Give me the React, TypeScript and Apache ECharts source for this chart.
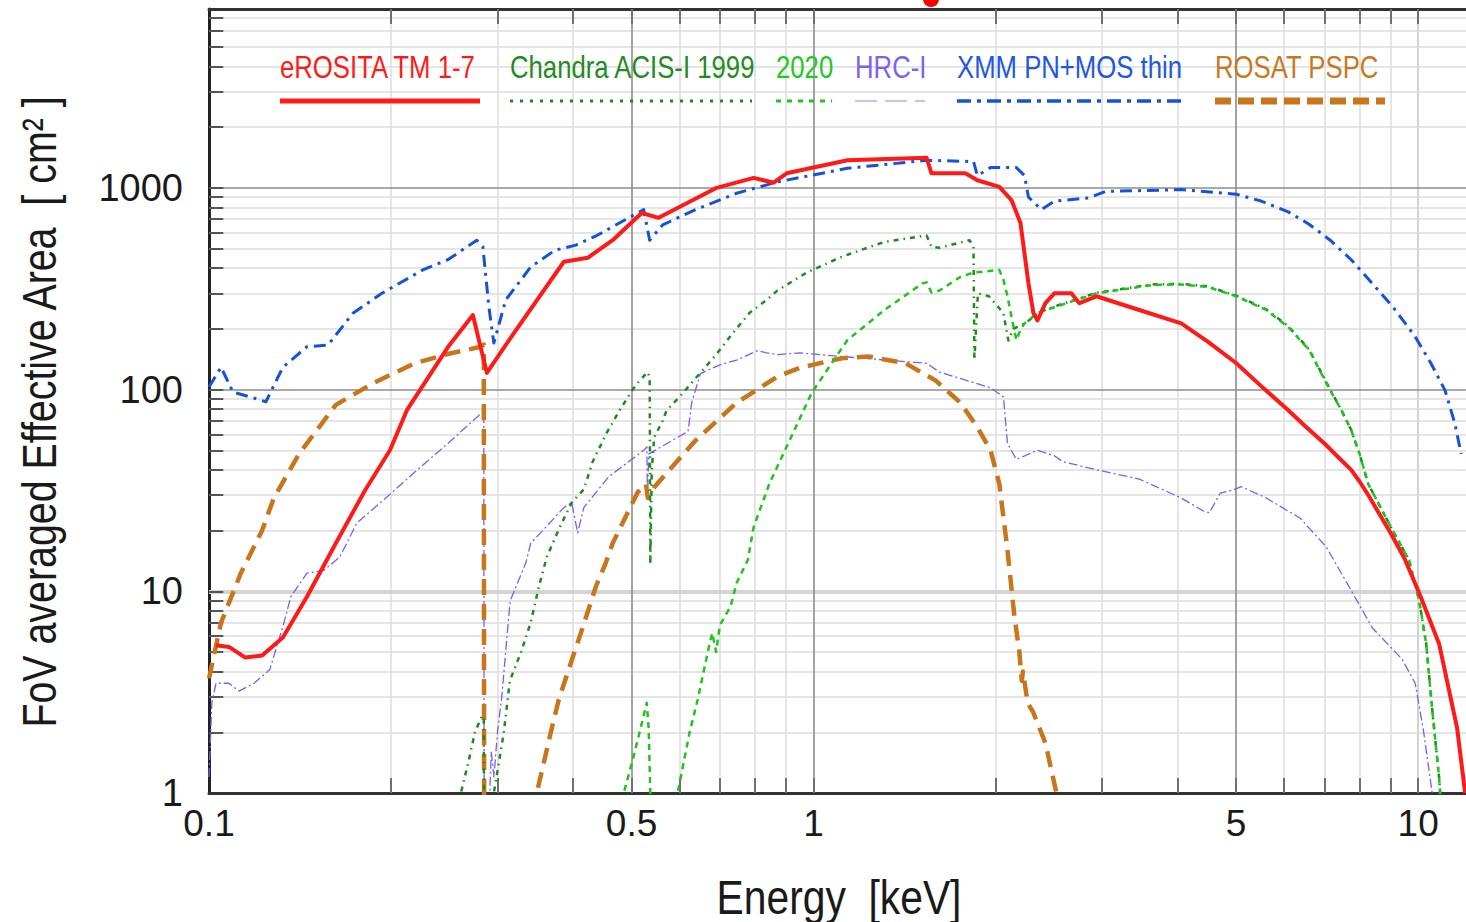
import React, { useEffect, useRef } from "react";
import * as echarts from "echarts";

// ---------- data (Energy keV, Effective area cm^2) ----------
const erosita: [number, number][] = [
  [0.1027, 5.4], [0.1079, 5.3], [0.1147, 4.7], [0.1224, 4.8], [0.1325, 5.9], [0.1452, 9.4],
  [0.1621, 17.3], [0.1811, 31.6], [0.1992, 50], [0.2125, 79], [0.2483, 162], [0.2732, 234],
  [0.2881, 121], [0.3192, 190], [0.3863, 430], [0.4231, 450], [0.4653, 550], [0.5196, 750],
  [0.5543, 710], [0.6914, 1000], [0.7959, 1120], [0.8589, 1060], [0.9024, 1180], [1.138, 1370],
  [1.538, 1410], [1.567, 1180], [1.783, 1180], [1.866, 1090], [2.029, 1010], [2.125, 870],
  [2.199, 670], [2.267, 336], [2.31, 240], [2.346, 220], [2.418, 268], [2.502, 300], [2.669, 300],
  [2.752, 268], [2.937, 290], [3.457, 248], [4.057, 213], [4.5, 172], [5.004, 135], [5.5, 104],
  [6.098, 79], [6.5, 66], [7.0, 54], [7.5, 44], [7.75, 40], [8.0, 35], [8.27, 30], [9.0, 19.5],
  [9.5, 14.5], [10.04, 9.8], [10.4, 7.5], [10.83, 5.5], [11.6, 2.1], [11.96, 1.0],
];

const xmm: [number, number][] = [
  [0.1, 103], [0.1047, 129], [0.1096, 97], [0.1169, 92], [0.1242, 87], [0.1325, 129], [0.1452, 163],
  [0.1573, 166], [0.173, 239], [0.1932, 300], [0.2258, 392], [0.2483, 440], [0.2773, 550],
  [0.2838, 510], [0.2904, 256], [0.2959, 170], [0.3096, 278], [0.3405, 405], [0.3732, 490],
  [0.4043, 520], [0.4379, 580], [0.5236, 780], [0.5357, 550], [0.5629, 655], [0.6383, 780],
  [0.7459, 940], [0.8719, 1070], [1.138, 1250], [1.538, 1370], [1.839, 1350], [1.866, 1150],
  [1.962, 1260], [2.165, 1260], [2.233, 1150], [2.267, 900], [2.382, 780], [2.502, 860],
  [2.848, 890], [3.039, 960], [4.057, 980], [5.004, 930], [5.5, 860], [6.098, 760], [6.6, 660],
  [7.154, 550], [7.75, 440], [8.395, 336], [9.1, 255], [9.886, 183], [10.5, 135], [11.08, 99],
  [11.5, 68], [11.78, 48],
];

const rosatLow: [number, number][] = [
  [0.1, 3.7], [0.1047, 7], [0.1129, 12.3], [0.1224, 20], [0.128, 29], [0.1409, 48], [0.1621, 84],
  [0.1874, 108], [0.219, 135], [0.2483, 150], [0.2816, 163], [0.2848, 167], [0.2852, 0.4],
];
const rosatHigh: [number, number][] = [
  [0.345, 0.8], [0.3485, 1.0], [0.3676, 2.0], [0.3789, 2.9], [0.3966, 4.4], [0.4136, 6.4],
  [0.4362, 10.5], [0.4531, 13.8], [0.4653, 17.3], [0.5118, 31], [0.528, 34], [0.532, 29],
  [0.546, 33], [0.6383, 56], [0.7459, 86], [0.8719, 116], [0.9483, 128], [1.113, 143],
  [1.229, 146], [1.419, 135], [1.591, 111], [1.75, 86], [1.866, 65], [1.962, 50], [2.029, 34],
  [2.093, 16], [2.149, 7.5], [2.19, 5.0], [2.21, 3.6], [2.22, 4.0], [2.26, 2.8], [2.31, 2.5],
  [2.418, 1.77], [2.522, 1.0], [2.6, 0.7],
];

const hrcLow: [number, number][] = [
  [0.1, 1.2], [0.1011, 2.8], [0.1027, 3.5], [0.1079, 3.5], [0.1121, 3.2], [0.1187, 3.5],
  [0.1261, 4.1], [0.1325, 6.7], [0.1366, 9.4], [0.1452, 12.3], [0.1549, 12.7], [0.1646, 14.8],
  [0.1756, 21.8], [0.1961, 29], [0.219, 39], [0.2483, 54], [0.2816, 76], [0.2848, 78], [0.2852, 0.4],
];
const hrcHigh: [number, number][] = [
  [0.289, 0.5], [0.293, 1.6], [0.296, 1.2], [0.3, 2.0], [0.305, 3.0], [0.312, 6.6], [0.315, 9],
  [0.3342, 13.8], [0.3405, 17.3], [0.3565, 20], [0.3863, 26], [0.398, 27.5], [0.4072, 19.5],
  [0.4168, 26], [0.4584, 37], [0.5236, 50], [0.53, 52], [0.531, 29], [0.534, 48], [0.62, 62],
  [0.6286, 86], [0.65, 120], [0.702, 133], [0.7459, 140], [0.8081, 156], [0.8363, 152],
  [0.8719, 149], [0.9483, 152], [1.138, 145], [1.538, 135], [1.616, 122], [1.962, 102],
  [2.061, 92], [2.093, 54], [2.165, 45], [2.346, 50], [2.502, 47], [2.58, 44], [2.937, 40],
  [3.457, 36], [4.057, 29], [4.413, 25], [4.515, 24.5], [4.708, 30.7], [4.928, 31.7], [5.099, 33],
  [5.608, 29], [6.383, 23], [7.046, 16.6], [7.75, 10.1], [8.395, 6.6], [9.41, 4.6], [9.886, 3.5],
  [10.19, 2.1], [10.55, 1.0], [10.7, 0.6],
];

const acis1999Low: [number, number][] = [
  [0.258, 0.7], [0.261, 1.0], [0.2691, 1.46], [0.2753, 2.0], [0.2827, 2.4], [0.2848, 2.4], [0.2852, 0.4],
];
const acis1999High: [number, number][] = [
  [0.293, 0.7], [0.2959, 1.0], [0.3074, 2.0], [0.3145, 3.6], [0.3291, 5.1], [0.3405, 7],
  [0.3512, 10.5], [0.362, 14.8], [0.3804, 20.8], [0.398, 27.5], [0.4168, 32], [0.4313, 44],
  [0.4548, 61], [0.4778, 79], [0.5022, 100], [0.5158, 111], [0.5315, 122], [0.5357, 115],
  [0.537, 14], [0.54, 40], [0.545, 58], [0.5629, 70], [0.5715, 79], [0.6004, 92], [0.645, 118],
  [0.6914, 150], [0.7346, 190], [0.7837, 240], [0.8363, 278], [0.8719, 310], [0.9737, 380],
  [1.113, 455], [1.31, 540], [1.538, 580], [1.567, 510], [1.616, 505], [1.811, 550], [1.839, 510],
  [1.845, 140], [1.87, 300], [1.95, 290], [2.06, 240], [2.1, 175], [2.14, 200], [2.25, 215],
  [2.35, 240], [2.502, 258], [2.937, 302], [3.634, 332], [4.057, 334], [4.481, 325], [5.004, 292],
  [5.608, 250], [6.098, 206], [6.603, 158], [7.154, 100], [7.45, 80], [7.75, 63], [8.0, 48],
  [8.27, 34], [9.0, 21], [9.66, 14.3], [10.04, 9], [10.31, 5.5], [10.55, 2.6], [10.83, 1.2], [11.0, 0.6],
];

const acis2020Spike: [number, number][] = [
  [0.483, 0.8], [0.4853, 1.0], [0.5022, 1.46], [0.5176, 2.1], [0.5297, 2.8], [0.5336, 2.1],
  [0.5375, 0.9], [0.539, 0.7],
];
const acis2020Main: [number, number][] = [
  [0.59, 0.8], [0.5959, 1.0], [0.6237, 2.0], [0.6431, 2.9], [0.673, 5.5], [0.68, 6.2], [0.69, 5.0],
  [0.7, 6.8], [0.729, 8.4], [0.7459, 11], [0.7784, 14.3], [0.7959, 20.8], [0.8459, 34.4],
  [0.9024, 52], [0.9924, 96], [1.071, 135], [1.138, 176], [1.31, 248], [1.514, 336], [1.538, 340],
  [1.567, 303], [1.616, 310], [1.75, 362], [1.839, 380], [2.029, 392], [2.061, 350], [2.093, 290],
  [2.125, 230], [2.165, 176], [2.199, 198], [2.233, 213], [2.267, 220], [2.346, 240], [2.502, 256],
  [2.937, 300], [3.634, 330], [4.057, 332], [4.481, 323], [5.004, 290], [5.608, 248], [6.098, 204],
  [6.603, 157], [7.154, 99], [7.45, 80], [7.75, 63], [8.0, 48], [8.27, 34], [9.0, 21], [9.66, 14.3],
  [10.04, 9], [10.31, 5.5], [10.55, 2.6], [10.83, 1.2], [11.0, 0.6],
];

// ---------- axes / ticks ----------
const xTickLabels = [0.1, 0.5, 1, 5, 10];
const yTickLabels = [1, 10, 100, 1000];
const xMinorGrid = [0.2, 0.3, 0.4, 0.6, 0.7, 0.8, 0.9, 2, 3, 4, 6, 7, 8, 9];
const xDarkGrid = [0.5, 1, 5];
const xLightMajor = [10];
const yMinorGrid = [2, 3, 4, 5, 6, 7, 8, 9, 20, 30, 40, 50, 60, 70, 80, 90, 200, 300, 400, 500, 600, 700, 800, 900, 2000, 3000, 4000, 5000, 6000, 7000];
const yDarkGrid = [100, 1000];
const yLightMajor = [10];
const legendLabels = ["eROSITA TM 1-7", "Chandra ACIS-I 1999", "2020", "HRC-I", "XMM PN+MOS thin", "ROSAT PSPC"];

const X_MIN = 0.1, X_MAX = 12, Y_MIN = 1, Y_MAX = 7700;
const FONT = '"Liberation Sans", Arial, Helvetica, sans-serif';

const C = {
  erosita: "#ff1a1a",
  c99: "#1c8c1c",
  c20: "#1fc41f",
  hrc: "#7c5cf6",
  xmm: "#1652d9",
  rosat: "#c8761c",
};

function curve(data: [number, number][], color: string, width: number, dash: any, z: number) {
  return {
    type: "line",
    data,
    symbol: "none",
    showSymbol: false,
    clip: true,
    silent: true,
    z,
    lineStyle: { color, width, type: dash, cap: "butt", join: "round" },
    emphasis: { disabled: true },
  };
}

export default function App() {
  const ref = useRef<HTMLDivElement>(null);
  useEffect(() => {
    if (!ref.current) return;
    const chart = echarts.init(ref.current, undefined, { renderer: "svg" });

    const lines: any[] = [];
    xMinorGrid.forEach((v) => lines.push({ xAxis: v, lineStyle: { color: "#dcdcdc", width: 1.5, type: "solid" } }));
    xLightMajor.forEach((v) => lines.push({ xAxis: v, lineStyle: { color: "#d2d2d2", width: 2, type: "solid" } }));
    yMinorGrid.forEach((v) => lines.push({ yAxis: v, lineStyle: { color: "#dcdcdc", width: 1.5, type: "solid" } }));
    yLightMajor.forEach((v) => lines.push({ yAxis: v, lineStyle: { color: "#d4d4d4", width: 4, type: "solid" } }));
    xDarkGrid.forEach((v) => lines.push({ xAxis: v, lineStyle: { color: "#8c8c8c", width: 1.6, type: "solid" } }));
    yDarkGrid.forEach((v) => lines.push({ yAxis: v, lineStyle: { color: "#8c8c8c", width: 1.6, type: "solid" } }));
    // inner ticks
    const tickY = Math.pow(10, 15 / 201.7);
    const tickX = Math.pow(10, 14 / 605);
    [...xMinorGrid, ...xDarkGrid, ...xLightMajor].forEach((v) => {
      lines.push([{ coord: [v, Y_MIN], lineStyle: { color: "#707070", width: 2, type: "solid" } }, { coord: [v, Y_MIN * tickY] }]);
      lines.push([{ coord: [v, Y_MAX * 0.999], lineStyle: { color: "#707070", width: 2, type: "solid" } }, { coord: [v, (Y_MAX * 0.999) / tickY] }]);
    });
    [...yMinorGrid, ...yLightMajor, ...yDarkGrid].forEach((v) => {
      lines.push([{ coord: [X_MIN * 1.001, v], lineStyle: { color: "#555", width: 2, type: "solid" } }, { coord: [X_MIN * 1.001 * tickX, v] }]);
    });
    // x tick labels
    xTickLabels.forEach((v) =>
      lines.push({
        xAxis: v,
        lineStyle: { color: "rgba(0,0,0,0)", width: 1 },
        label: {
          show: true,
          position: "start",
          formatter: String(v),
          color: "#1a1a1a",
          fontSize: 37,
          fontFamily: FONT,
          distance: 12,
        },
      })
    );

    const gridSeries = {
      type: "line",
      data: [[1, 1]],
      symbol: "none",
      silent: true,
      z: 1,
      lineStyle: { width: 0, opacity: 0 },
      markLine: {
        silent: true,
        symbol: ["none", "none"],
        animation: false,
        z: 1,
        label: { show: false },
        emphasis: { disabled: true },
        data: lines,
      },
    };

    const legendLeft = [280, 510, 776, 855, 957, 1215];
    const legendRight = [480, 752, 832, 925, 1185, 1385];
    const legendText = [C.erosita, "#238b23", "#22c722", "#7d62f0", "#2158de", "#c9781f"];
    const legendLine = [
      { stroke: C.erosita, lineWidth: 5, lineDash: null },
      { stroke: C.c99, lineWidth: 3, lineDash: [3, 7] },
      { stroke: C.c20, lineWidth: 3, lineDash: [5, 6] },
      { stroke: "#b9aaff", lineWidth: 1.6, lineDash: [22, 8] },
      { stroke: C.xmm, lineWidth: 3.5, lineDash: [14, 6, 4, 6] },
      { stroke: C.rosat, lineWidth: 7, lineDash: [16, 7] },
    ];

    const graphic: any[] = [];
    legendLabels.forEach((t, i) => {
      graphic.push({
        type: "text",
        x: legendLeft[i],
        y: 67,
        scaleX: 0.83,
        silent: true,
        z: 10,
        style: {
          text: t,
          fill: legendText[i],
          font: `31px ${FONT}`,
          textAlign: "left",
          textVerticalAlign: "middle",
          align: "left",
          verticalAlign: "middle",
        },
      });
      graphic.push({
        type: "line",
        silent: true,
        z: 10,
        shape: { x1: legendLeft[i], y1: 101, x2: legendRight[i], y2: 101 },
        style: { ...legendLine[i], lineCap: "butt" },
      });
    });
    graphic.push({
      type: "text",
      x: 839,
      y: 897,
      scaleX: 0.85,
      silent: true,
      style: {
        text: "Energy  [keV]",
        fill: "#1a1a1a",
        font: `48px ${FONT}`,
        textAlign: "center",
        textVerticalAlign: "middle",
        align: "center",
        verticalAlign: "middle",
      },
    });
    graphic.push({
      type: "text",
      x: 39,
      y: 412,
      rotation: Math.PI / 2,
      scaleX: 0.82,
      silent: true,
      style: {
        text: "FoV averaged Effective Area  [ cm² ]",
        fill: "#1a1a1a",
        font: `48px ${FONT}`,
        textAlign: "center",
        textVerticalAlign: "middle",
        align: "center",
        verticalAlign: "middle",
      },
    });
    graphic.push({ type: "circle", silent: true, shape: { cx: 931, cy: -1, r: 8 }, style: { fill: "#ff0000" } });

    const logX = (pos: string) => ({
      type: "log",
      logBase: 10,
      min: X_MIN,
      max: X_MAX,
      position: pos,
      axisLine: { show: true, onZero: false, lineStyle: { color: "#333", width: 3 } },
      axisTick: { show: false },
      axisLabel: { show: false },
      splitLine: { show: false },
    });

    chart.setOption({
      animation: false,
      backgroundColor: "#ffffff",
      grid: { left: 209, right: 0, top: 9, bottom: 129, containLabel: false },
      xAxis: [logX("bottom"), logX("top")],
      yAxis: {
        type: "log",
        logBase: 10,
        min: Y_MIN,
        max: Y_MAX,
        axisLine: { show: true, onZero: false, lineStyle: { color: "#222", width: 3 } },
        axisTick: { show: false },
        splitLine: { show: false },
        axisLabel: {
          fontSize: 38,
          fontFamily: FONT,
          color: "#1a1a1a",
          margin: 26,
          formatter: (v: number) => {
            const hit = yTickLabels.find((t) => Math.abs(t - v) / t < 1e-6);
            return hit !== undefined ? String(hit) : "";
          },
        },
      },
      series: [
        gridSeries,
        curve(hrcLow, C.hrc, 1.3, [9, 3, 2, 3], 3),
        curve(hrcHigh, C.hrc, 1.3, [9, 3, 2, 3], 3),
        curve(rosatLow, C.rosat, 4.5, [16, 9], 4),
        curve(rosatHigh, C.rosat, 4.5, [16, 9], 4),
        curve(acis1999Low, C.c99, 2.5, [5, 5, 1.5, 5], 5),
        curve(acis1999High, C.c99, 2.5, [5, 5, 1.5, 5], 5),
        curve(acis2020Spike, C.c20, 2.5, [6, 5], 6),
        curve(acis2020Main, C.c20, 2.5, [6, 5], 6),
        curve(xmm, C.xmm, 3, [12, 6, 3, 6], 7),
        curve(erosita, C.erosita, 4, "solid", 8),
      ],
      graphic,
    });

    return () => chart.dispose();
  }, []);

  return (
    <div
      ref={ref}
      style={{ position: "absolute", left: 0, top: 0, width: 1466, height: 922, background: "#fff" }}
    />
  );
}
